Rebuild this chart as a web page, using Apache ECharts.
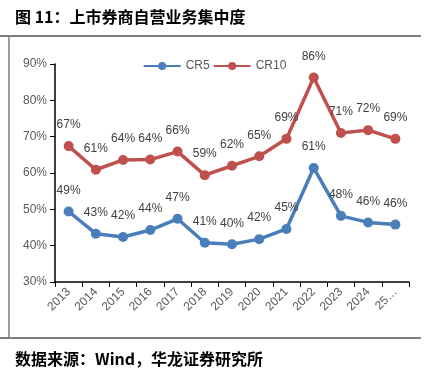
<!DOCTYPE html>
<html><head><meta charset="utf-8">
<script src="https://cdn.jsdelivr.net/npm/echarts@6/dist/echarts.min.js"></script>
<style>html,body{margin:0;padding:0;background:#fff}#c{width:429px;height:374px}</style>
</head><body><div id="c"></div>
<script>
const categories = ['2013','2014','2015','2016','2017','2018','2019','2020','2021','2022','2023','2024','25…'];
const cr5 = [49.4, 43.3, 42.4, 44.3, 47.4, 40.8, 40.4, 41.8, 44.6, 61.4, 48.2, 46.4, 45.8];
const cr10 = [67.4, 60.9, 63.6, 63.7, 65.9, 59.4, 62.0, 64.6, 69.4, 86.3, 71.0, 71.8, 69.4];
const yTicks = [30, 40, 50, 60, 70, 80, 90];
const titleText = '图 11：上市券商自营业务集中度';
const sourceText = '数据来源：Wind，华龙证券研究所';

const chart = echarts.init(document.getElementById('c'), null, {renderer:'canvas'});
const labelCfg = {
  show: true, position: 'top', distance: 10,
  color: '#404040', fontSize: 12, fontFamily: 'Liberation Sans, Arial, sans-serif',
  formatter: p => Math.round(p.value) + '%'
};
chart.setOption({
  animation: false,
  title: [
    {text: titleText, left: 10, top: 4, textStyle: {fontSize: 16, fontWeight: 'bold', color: '#000', fontFamily: 'Noto Sans CJK SC'}},
    {text: sourceText, left: 10, top: 346, textStyle: {fontSize: 16, fontWeight: 'bold', color: '#000', fontFamily: 'Noto Sans CJK SC'}}
  ],
  graphic: [
    {type: 'line', shape: {x1: 0, y1: 36, x2: 421, y2: 36}, style: {stroke: '#7f7f7f', lineWidth: 2}},
    {type: 'line', shape: {x1: 0, y1: 338, x2: 421, y2: 338}, style: {stroke: '#7f7f7f', lineWidth: 2}},
    {type: 'line', shape: {x1: 9, y1: 36, x2: 9, y2: 338}, style: {stroke: '#7f7f7f', lineWidth: 1.5}}
  ],
  legend: {
    data: ['CR5', 'CR10'], top: 55, left: 'center', itemWidth: 37, itemHeight: 10, itemGap: 3,
    textStyle: {color: '#595959', fontSize: 12, fontFamily: 'Liberation Sans, Arial, sans-serif'}
  },
  grid: {left: 55, right: 20, top: 64, bottom: 92},
  xAxis: {
    type: 'category', data: categories, boundaryGap: true,
    axisLine: {lineStyle: {color: '#000', width: 1.5}},
    axisTick: {show: true, length: 5, lineStyle: {color: '#000'}},
    axisLabel: {rotate: 45, margin: 8, color: '#595959', fontSize: 12, fontFamily: 'Liberation Sans, Arial, sans-serif', interval: 0}
  },
  yAxis: {
    type: 'value', min: yTicks[0], max: yTicks[yTicks.length-1], interval: 10,
    axisLine: {show: true, lineStyle: {color: '#000', width: 1.5}},
    axisTick: {show: true, length: 5, lineStyle: {color: '#000'}},
    splitLine: {show: false},
    axisLabel: {formatter: '{value}%', color: '#595959', fontSize: 12, fontFamily: 'Liberation Sans, Arial, sans-serif', margin: 8}
  },
  series: [
    {name: 'CR5', type: 'line', data: cr5, symbol: 'circle', symbolSize: 10,
     itemStyle: {color: '#4a7ebb'}, lineStyle: {width: 3.5, color: '#4a7ebb'}, label: labelCfg},
    {name: 'CR10', type: 'line', data: cr10, symbol: 'circle', symbolSize: 10,
     itemStyle: {color: '#c0504d'}, lineStyle: {width: 3.5, color: '#c0504d'}, label: labelCfg}
  ]
});
</script></body></html>
